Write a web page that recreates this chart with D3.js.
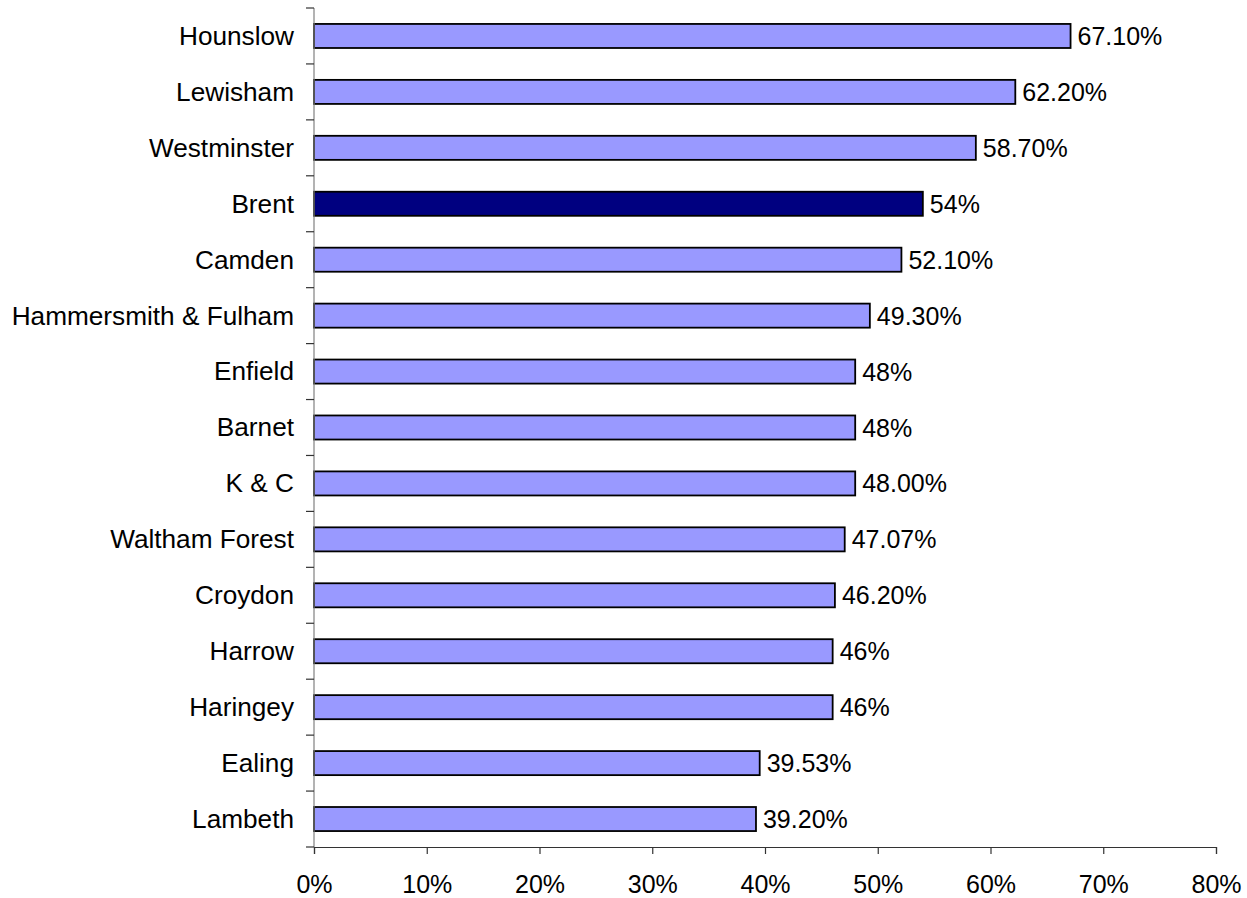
<!DOCTYPE html>
<html><head><meta charset="utf-8">
<script src="https://cdn.jsdelivr.net/npm/d3@7"></script>
<style>body{margin:0;background:#fff}svg{display:block}text{font-family:"Liberation Sans",Arial,sans-serif}</style>
</head><body><svg id="c" width="1247" height="898"></svg>
<script>
const categories = ["Hounslow","Lewisham","Westminster","Brent","Camden","Hammersmith & Fulham","Enfield","Barnet","K & C","Waltham Forest","Croydon","Harrow","Haringey","Ealing","Lambeth"];
const values = [67.1,62.2,58.7,54,52.1,49.3,48,48,48.0,47.07,46.2,46,46,39.53,39.2];
const valueLabels = ["67.10%","62.20%","58.70%","54%","52.10%","49.30%","48%","48%","48.00%","47.07%","46.20%","46%","46%","39.53%","39.20%"];
const highlight = "Brent";
const xTicks = [0,10,20,30,40,50,60,70,80];

(function(){
const svg = d3.select("#c");
const mL = 314, mR = 1216, mT = 8, mB = 847;
const x = d3.scaleLinear().domain([0,80]).range([mL,mR]);
const y = d3.scaleBand().domain(categories).range([mT,mB]).paddingInner(0.57).paddingOuter(0.285);
const yb = d3.scaleBand().domain(categories).range([mT,mB]);

svg.append("g").selectAll("rect").data(categories).join("rect")
  .attr("x", x(0)).attr("y", d=>y(d))
  .attr("width", (d,i)=>x(values[i])-x(0)).attr("height", y.bandwidth())
  .attr("fill", d=>d===highlight?"#000080":"#9999FF")
  .attr("stroke","#000").attr("stroke-width",1.8);

svg.append("g").selectAll("text").data(categories).join("text")
  .attr("x",(d,i)=>x(values[i])+7).attr("y",d=>yb(d)+yb.bandwidth()/2)
  .attr("dy","0.36em").attr("font-size",25).attr("fill","#000")
  .text((d,i)=>valueLabels[i]);

const gy = svg.append("g");
gy.append("line").attr("x1",mL).attr("x2",mL).attr("y1",mT).attr("y2",mB).attr("stroke","#808080").attr("stroke-width",1.2);
const bounds = categories.map(d=>yb(d)).concat([mB]);
gy.selectAll("line.t").data(bounds).join("line").attr("class","t")
  .attr("x1",mL-8).attr("x2",mL).attr("y1",d=>d).attr("y2",d=>d).attr("stroke","#333").attr("stroke-width",1.2);
gy.selectAll("text").data(categories).join("text")
  .attr("x",mL-20).attr("y",d=>yb(d)+yb.bandwidth()/2).attr("dy","0.34em")
  .attr("text-anchor","end").attr("font-size",26.2).attr("fill","#000").text(d=>d);

const gx = svg.append("g").attr("transform",`translate(0,${mB})`)
  .call(d3.axisBottom(x).tickValues(xTicks).tickFormat(d=>d+"%").tickSize(7).tickPadding(21));
gx.select(".domain").attr("stroke","#333").attr("stroke-width",1.2);
gx.selectAll(".tick line").attr("stroke","#333").attr("stroke-width",1.2);
gx.selectAll("text").attr("font-size",25).attr("fill","#000").attr("font-family","Liberation Sans, Arial, sans-serif");
})();
</script></body></html>
